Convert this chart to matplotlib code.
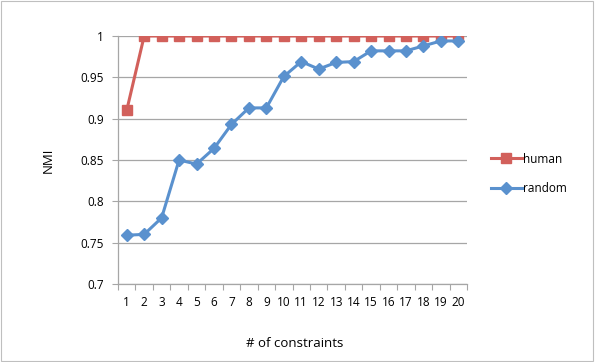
import matplotlib
matplotlib.use("Agg")
import matplotlib.pyplot as plt
from matplotlib.patches import Rectangle
import numpy as np

plt.rcParams['font.family'] = ['Open Sans', 'DejaVu Sans']

constraints = list(range(1, 21))
human = [0.91, 1.0, 1.0, 1.0, 1.0, 1.0, 1.0, 1.0, 1.0, 1.0,
         1.0, 1.0, 1.0, 1.0, 1.0, 1.0, 1.0, 1.0, 1.0, 1.0]
random_nmi = [0.759, 0.760, 0.780, 0.850, 0.845, 0.864, 0.893, 0.913, 0.913, 0.951,
              0.969, 0.960, 0.968, 0.969, 0.982, 0.982, 0.982, 0.988, 0.994, 0.994]
y_ticks = [0.7, 0.75, 0.8, 0.85, 0.9, 0.95, 1.0]
y_labels = ["0.7", "0.75", "0.8", "0.85", "0.9", "0.95", "1"]

red = "#D2605B"
blue = "#5A91CE"
grid_col = "#A6A6A6"

fig = plt.figure(figsize=(5.95, 3.62), dpi=100)
fig.patches.append(Rectangle((0.002, 0.003), 0.995, 0.993, transform=fig.transFigure,
                             fill=False, edgecolor="#BFBFBF", linewidth=0.8))
ax = fig.add_axes([0.1983, 0.2155, 0.5867, 0.6851])

ax.plot(constraints, human, color=red, linewidth=2.2, marker="s", markersize=7,
        label="human", zorder=3)
ax.plot(constraints, random_nmi, color=blue, linewidth=2.2, marker="D", markersize=6,
        label="random", zorder=4)

ax.set_xlim(0.5, 20.5)
ax.set_ylim(0.7, 1.0)
ax.set_yticks(y_ticks)
ax.set_yticklabels(y_labels)
ax.set_xticks(constraints)
ax.set_xticks(np.arange(0.5, 21, 1), minor=True)
ax.tick_params(axis="x", which="major", length=0, pad=9, labelsize=8.5, colors="#000000")
ax.tick_params(axis="x", which="minor", length=4, color=grid_col, width=0.8)
ax.tick_params(axis="y", length=4, color=grid_col, width=0.8, labelsize=8.5, pad=6)

ax.grid(axis="y", color=grid_col, linewidth=0.9)
ax.set_axisbelow(True)
for side in ["top", "right"]:
    ax.spines[side].set_visible(False)
for side in ["left", "bottom"]:
    ax.spines[side].set_color(grid_col)
    ax.spines[side].set_linewidth(0.9)

fig.text(0.081, 0.558, "NMI", rotation=90, ha="center", va="center", fontsize=9.5)
fig.text(0.496, 0.052, "# of constraints", ha="center", va="center", fontsize=9.5)

leg = ax.legend(loc="center left", bbox_to_anchor=(1.055, 0.444), frameon=False,
                fontsize=8.5, handlelength=2.6, handletextpad=0.1, labelspacing=1.4,
                borderaxespad=0.0)

fig.savefig("out.png", dpi=100)
